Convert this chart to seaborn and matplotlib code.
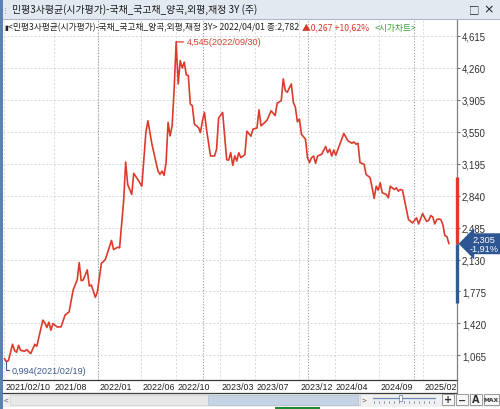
import numpy as np
import pandas as pd
import matplotlib
matplotlib.use("Agg")
import matplotlib.pyplot as plt
from matplotlib.transforms import ScaledTranslation, blended_transform_factory
from matplotlib.patches import Rectangle
from matplotlib.lines import Line2D
import seaborn as sns

# ---------------- data ----------------
start_date = "2021-02-12"
week_offsets = [
    0, 1, 2, 4, 5, 6, 7, 8, 10, 11,
    13, 15, 16, 19, 20, 21, 22, 23, 24, 26,
    28, 30, 32, 34, 36, 37, 38, 39, 41, 42,
    43, 45, 46, 48, 49, 50, 53, 54, 56, 57,
    58, 59, 60, 61, 63, 64, 66, 68, 70, 71,
    73, 76, 77, 78, 79, 80, 81, 82, 83, 84,
    85, 86, 87, 88, 89, 90, 91, 92, 93, 94,
    96, 97, 98, 99, 100, 102, 104, 105, 106, 108,
    110, 111, 112, 113, 114, 115, 116, 117, 119, 120,
    122, 123, 125, 126, 127, 129, 130, 132, 134, 135,
    137, 138, 139, 140, 142, 143, 144, 145, 146, 147,
    149, 150, 151, 152, 153, 154, 155, 157, 159, 160,
    161, 162, 163, 164, 166, 168, 170, 172, 173, 174,
    175, 176, 178, 179, 181, 182, 183, 184, 185, 186,
    187, 189, 190, 191, 192, 193, 194, 195, 196, 197,
    200, 201, 202, 204, 205, 207, 208, 209, 210, 211,
    212, 213, 214, 215, 216, 217, 218, 219, 220]
yields = [
    1.030, 0.994, 1.010, 1.189, 1.120, 1.100, 1.178, 1.122, 1.111, 1.130,
    1.085, 1.189, 1.167, 1.457, 1.427, 1.375, 1.434, 1.345, 1.420, 1.382,
    1.382, 1.513, 1.549, 1.791, 1.903, 2.096, 1.895, 1.903, 2.015, 1.836,
    1.847, 1.710, 1.773, 2.089, 2.107, 2.134, 2.342, 2.240, 2.266, 2.260,
    2.515, 2.782, 3.212, 2.963, 2.852, 3.086, 3.019, 2.944, 3.540, 3.670,
    3.410, 3.112, 3.075, 3.112, 3.064, 3.206, 3.652, 3.502, 3.614, 4.024,
    4.545, 4.079, 4.339, 4.255, 4.321, 4.180, 4.172, 3.856, 3.837, 3.633,
    3.596, 3.540, 3.670, 3.763, 3.577, 3.279, 3.279, 3.354, 3.700, 3.763,
    3.237, 3.234, 3.317, 3.175, 3.281, 3.223, 3.315, 3.261, 3.293, 3.555,
    3.499, 3.577, 3.590, 3.791, 3.614, 3.655, 3.678, 3.781, 3.728, 3.867,
    3.893, 4.135, 4.005, 3.987, 4.079, 3.875, 3.819, 3.659, 3.689, 3.521,
    3.466, 3.261, 3.206, 3.261, 3.279, 3.198, 3.279, 3.298, 3.384, 3.317,
    3.354, 3.279, 3.346, 3.287, 3.410, 3.529, 3.447, 3.421, 3.435, 3.410,
    3.421, 3.206, 3.187, 3.075, 3.038, 2.927, 2.807, 2.944, 2.900, 2.982,
    2.871, 2.852, 2.815, 2.944, 2.926, 2.907, 2.926, 2.889, 2.907, 2.900,
    2.573, 2.554, 2.536, 2.592, 2.525, 2.640, 2.592, 2.554, 2.565, 2.617,
    2.603, 2.525, 2.573, 2.580, 2.573, 2.517, 2.394, 2.386, 2.305]

x_tick_dates = ["2021-02-10", "2021-08-01", "2022-01-01", "2022-06-01", "2022-10-01",
                "2023-03-01", "2023-07-01", "2023-12-01", "2024-04-01", "2024-09-01",
                "2025-02-01"]
x_tick_labels = ["2021/02/10", "2021/08", "2022/01", "2022/06", "2022/10", "2023/03",
                 "2023/07", "2023/12", "2024/04", "2024/09", "2025/02"]
year_lines = ["2022-01-01", "2023-01-01", "2024-01-01", "2025-01-01"]
y_ticks = [1.065, 1.420, 1.775, 2.130, 2.485, 2.840, 3.195, 3.550, 3.905, 4.260, 4.615]
y_tick_labels = ["1,065", "1,420", "1,775", "2,130", "2,485", "2,840", "3,195",
                 "3,550", "3,905", "4,260", "4,615"]
x_range = ["2021-02-07", "2025-05-30"]
y_range = [0.798, 4.80]

peak_date, peak_val, peak_label = "2022-09-30", 4.545, "4,545(2022/09/30)"
low_date, low_val, low_label = "2021-02-19", 0.994, "0,994(2021/02/19)"
last_val, last_label = 2.305, "2,305\n-1,91%"
range_high, range_low = 3.05, 1.65

title_text = "민평3사평균(시가평가)-국채_국고채_양곡,외평,재정 3Y (주)"
info_main = "<민평3사평균(시가평가)-국채_국고채_양곡,외평,재정 3Y> 2022/04/01 종:2,782"
info_chg = "▲0,267 +10,62%"
info_tag = "<시가차트>"

# ---------------- style ----------------
sns.set_style("white")
KR = ["Noto Sans CJK KR", "DejaVu Sans"]
NARROW = ["Liberation Sans Narrow", "Liberation Sans", "DejaVu Sans"]
plt.rcParams["font.family"] = NARROW

LINE_RED = "#dc3b2b"
W, H = 500, 410

fig = plt.figure(figsize=(5, 4.1), dpi=100)
fig.patch.set_facecolor("white")


def fx(x):
    return x / W


def fy(y):
    return 1 - y / H


ax = fig.add_axes([fx(3), fy(380.5), (457 - 3) / W, (380.5 - 20) / H])

df = pd.DataFrame({
    "date": pd.Timestamp(start_date) + pd.to_timedelta(np.array(week_offsets) * 7, unit="D"),
    "value": yields,
})
sns.lineplot(data=df, x="date", y="value", ax=ax, color=LINE_RED, lw=1.2, zorder=5)

ax.set_xlim(pd.Timestamp(x_range[0]), pd.Timestamp(x_range[1]))
ax.set_ylim(*y_range)
ax.set_xlabel("")
ax.set_ylabel("")

# grid
ax.set_xticks(pd.to_datetime(x_tick_dates))
ax.set_xticklabels(x_tick_labels)
ax.set_yticks(y_ticks)
ax.set_yticklabels(y_tick_labels)
ax.grid(True, color="#d6d6d6", ls=(0, (2, 2)), lw=0.7)
for d in year_lines:
    ax.axvline(pd.Timestamp(d), color="#9a9a9a", ls=(0, (1, 1.6)), lw=0.8, zorder=1)

# axes / ticks
ax.yaxis.tick_right()
for s in ["left", "top"]:
    ax.spines[s].set_visible(False)
ax.spines["right"].set_color("#808080")
ax.spines["right"].set_linewidth(0.9)
ax.spines["bottom"].set_color("#3a3a3a")
ax.spines["bottom"].set_linewidth(0.9)
ax.tick_params(axis="y", length=2.5, width=0.8, color="#707070", labelsize=6.9,
               pad=1, labelcolor="#303030")
ax.tick_params(axis="x", length=9.6, width=0.8, color="#3a3a3a", labelsize=6.4,
               pad=-8.0, labelcolor="#202020", direction="out")
for lab in ax.get_xticklabels():
    lab.set_horizontalalignment("left")
    lab.set_transform(lab.get_transform() + ScaledTranslation(1.0 / 72, 0, fig.dpi_scale_trans))

# peak annotation
ax.annotate(peak_label, xy=(pd.Timestamp(peak_date), peak_val), xytext=(7.6, 0),
            textcoords="offset points", va="center", ha="left", color="#d0402f",
            fontsize=6.6, zorder=6,
            arrowprops=dict(arrowstyle="-", color=LINE_RED, lw=0.9, shrinkA=0, shrinkB=0))
# low annotation
ax.annotate(low_label, xy=(pd.Timestamp(low_date), low_val), xytext=(4, -6),
            textcoords="offset points", va="center", ha="left", color="#3d5a8e",
            fontsize=6.6, zorder=6,
            arrowprops=dict(arrowstyle="-", color="#3d5a8e", lw=0.8, shrinkA=0, shrinkB=0,
                            connectionstyle="angle,angleA=0,angleB=90,rad=0"))

# right-side range bars and price box
bt = blended_transform_factory(ax.transAxes, ax.transData)
ax.plot([1.0, 1.0], [last_val, range_high], transform=bt, color="#e03a2a", lw=2.4,
        solid_capstyle="butt", clip_on=False, zorder=7)
ax.plot([1.0, 1.0], [range_low, last_val], transform=bt, color="#2f5b98", lw=2.4,
        solid_capstyle="butt", clip_on=False, zorder=7)
ax.text(1.0, last_val, last_label, transform=bt + ScaledTranslation(9 / 72, 0, fig.dpi_scale_trans),
        ha="left", va="center", color="white", fontsize=6.6, linespacing=0.95,
        multialignment="center", zorder=8,
        bbox=dict(boxstyle="larrow,pad=0.18", fc="#2d5692", ec="none"))

# ---------------- window chrome ----------------
# title bar
fig.patches.append(Rectangle((0, fy(20)), 1, 20 / H, transform=fig.transFigure,
                             fc="#e3e9f1", ec="none", zorder=0))
fig.lines.append(Line2D([0, 1], [fy(20), fy(20)], transform=fig.transFigure,
                        color="#a9b7c9", lw=0.8))
fig.text(fx(5.5), fy(10), "⋮", fontsize=5, color="#7a8796", va="center", ha="center",
         family=["DejaVu Sans"])
fig.text(fx(12), fy(10), title_text, fontsize=7.1, color="#1a1a1a", va="center",
         ha="left", family=KR)
fig.text(fx(474), fy(10), "□", fontsize=7.5, color="#222", va="center", ha="center", family=KR)
fig.text(fx(489), fy(10), "×", fontsize=9, color="#222", va="center", ha="center",
         family=["DejaVu Sans"])

# info line
renderer = fig.canvas.get_renderer()
fig.text(fx(4), fy(28), "▮", fontsize=5.0, color="#222", va="center", ha="left",
         family=["DejaVu Sans"])
t1 = fig.text(fx(8), fy(28), info_main, fontsize=6.3, color="#202020", va="center",
              ha="left", family=KR)
bb = t1.get_window_extent(renderer)
t2 = fig.text((bb.x1 + 3) / W, fy(28), info_chg, fontsize=6.3, color="#d23a2a",
              va="center", ha="left", family=KR)
bb2 = t2.get_window_extent(renderer)
fig.text((bb2.x1 + 5) / W, fy(28), info_tag, fontsize=6.3, color="#3a9d3a", va="center",
         ha="left", family=KR)

# x-axis band bottom line
fig.lines.append(Line2D([fx(3), fx(457)], [fy(394), fy(394)], transform=fig.transFigure,
                        color="#3a3a3a", lw=0.9))
fig.lines.append(Line2D([fx(457), fx(457)], [fy(394), fy(380.5)], transform=fig.transFigure,
                        color="#808080", lw=0.9))

# scrollbar row
fig.patches.append(Rectangle((0, fy(408)), 1, 13.5 / H, transform=fig.transFigure,
                             fc="#f0f0f0", ec="none", zorder=0))
fig.patches.append(Rectangle((fx(10), fy(406)), (360 - 10) / W, 10 / H,
                             transform=fig.transFigure, fc="#e8e8e8", ec="#cfcfcf",
                             lw=0.5, zorder=1))
fig.patches.append(Rectangle((fx(208), fy(406)), (358 - 208) / W, 10 / H,
                             transform=fig.transFigure, fc="#c6d3e4", ec="#b2c0d3",
                             lw=0.5, zorder=2))
fig.text(fx(6), fy(401), "<", fontsize=6, color="#555", va="center", ha="center")
fig.text(fx(364), fy(401), ">", fontsize=6, color="#555", va="center", ha="center")
fig.lines.append(Line2D([fx(373), fx(435)], [fy(398.5), fy(398.5)],
                        transform=fig.transFigure, color="#6d8bb8", lw=0.9))
for k in range(13):
    xk = 374 + k * 5
    fig.lines.append(Line2D([fx(xk), fx(xk)], [fy(402), fy(404)], transform=fig.transFigure,
                            color="#6d8bb8", lw=0.6))
fig.patches.append(Rectangle((fx(399), fy(402)), 3 / W, 6 / H, transform=fig.transFigure,
                             fc="white", ec="#6d8bb8", lw=0.6, zorder=3))
buttons = [("+", 442, 454), ("−", 456, 468), ("A", 470, 482), ("MAX", 484, 499)]
for lbl, x0, x1 in buttons:
    fig.patches.append(Rectangle((fx(x0), fy(406)), (x1 - x0) / W, 11 / H,
                                 transform=fig.transFigure, fc="#f7f7f7", ec="#8c8c8c",
                                 lw=0.6, zorder=3))
    fig.text(fx((x0 + x1) / 2), fy(400.5), lbl, fontsize=4.3 if lbl == "MAX" else 7,
             color="#333", va="center", ha="center", fontweight="bold", zorder=4,
             family=["DejaVu Sans"])
# clipped bottom strip
fig.patches.append(Rectangle((fx(275), 0), 45 / W, 2 / H, transform=fig.transFigure,
                             fc="#1f8a2e", ec="none", zorder=2))

# left window border
fig.patches.append(Rectangle((0, 0), 2.6 / W, 1, transform=fig.transFigure,
                             fc="#5b7fb6", ec="none", zorder=9))

fig.savefig("out.png", dpi=100)
